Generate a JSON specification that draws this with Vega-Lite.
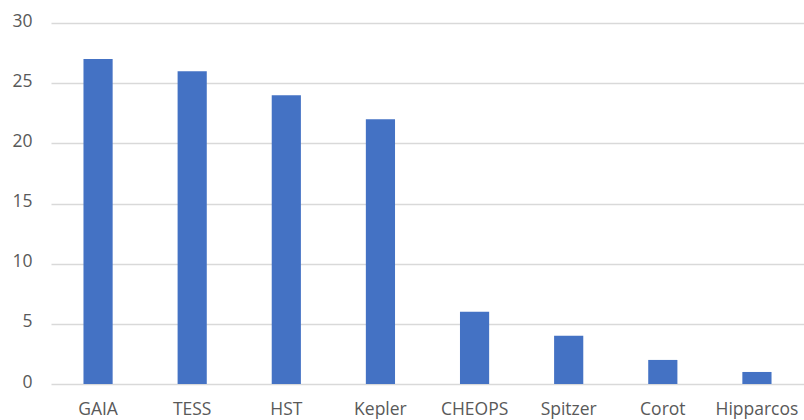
{
  "$schema": "https://vega.github.io/schema/vega-lite/v6.json",
  "autosize": "none",
  "width": 753,
  "height": 361,
  "padding": {"left": 51, "top": 23, "right": 0, "bottom": 36},
  "background": "white",
  "data": {"values": [
    {"mission": "GAIA", "count": 27},
    {"mission": "TESS", "count": 26},
    {"mission": "HST", "count": 24},
    {"mission": "Kepler", "count": 22},
    {"mission": "CHEOPS", "count": 6},
    {"mission": "Spitzer", "count": 4},
    {"mission": "Corot", "count": 2},
    {"mission": "Hipparcos", "count": 1}
  ]},
  "mark": {"type": "bar", "color": "#4472c4"},
  "encoding": {
    "x": {"field": "mission", "type": "nominal", "sort": null,
      "scale": {"paddingInner": 0.69, "paddingOuter": 0.345},
      "axis": {"title": null, "labelAngle": 0, "domain": false, "ticks": false, "labelPadding": 16,
        "labelFont": "Open Sans", "labelFontSize": 17.5, "labelColor": "#595959"}},
    "y": {"field": "count", "type": "quantitative",
      "scale": {"domain": [0, 30], "nice": false},
      "axis": {"title": null, "values": [0, 5, 10, 15, 20, 25, 30], "domain": false, "ticks": false,
        "labelPadding": 19, "labelOffset": -2, "gridColor": "#d9d9d9", "gridWidth": 1.3,
        "labelFont": "Open Sans", "labelFontSize": 17.5, "labelColor": "#595959"}}
  },
  "config": {"view": {"stroke": null}}
}
